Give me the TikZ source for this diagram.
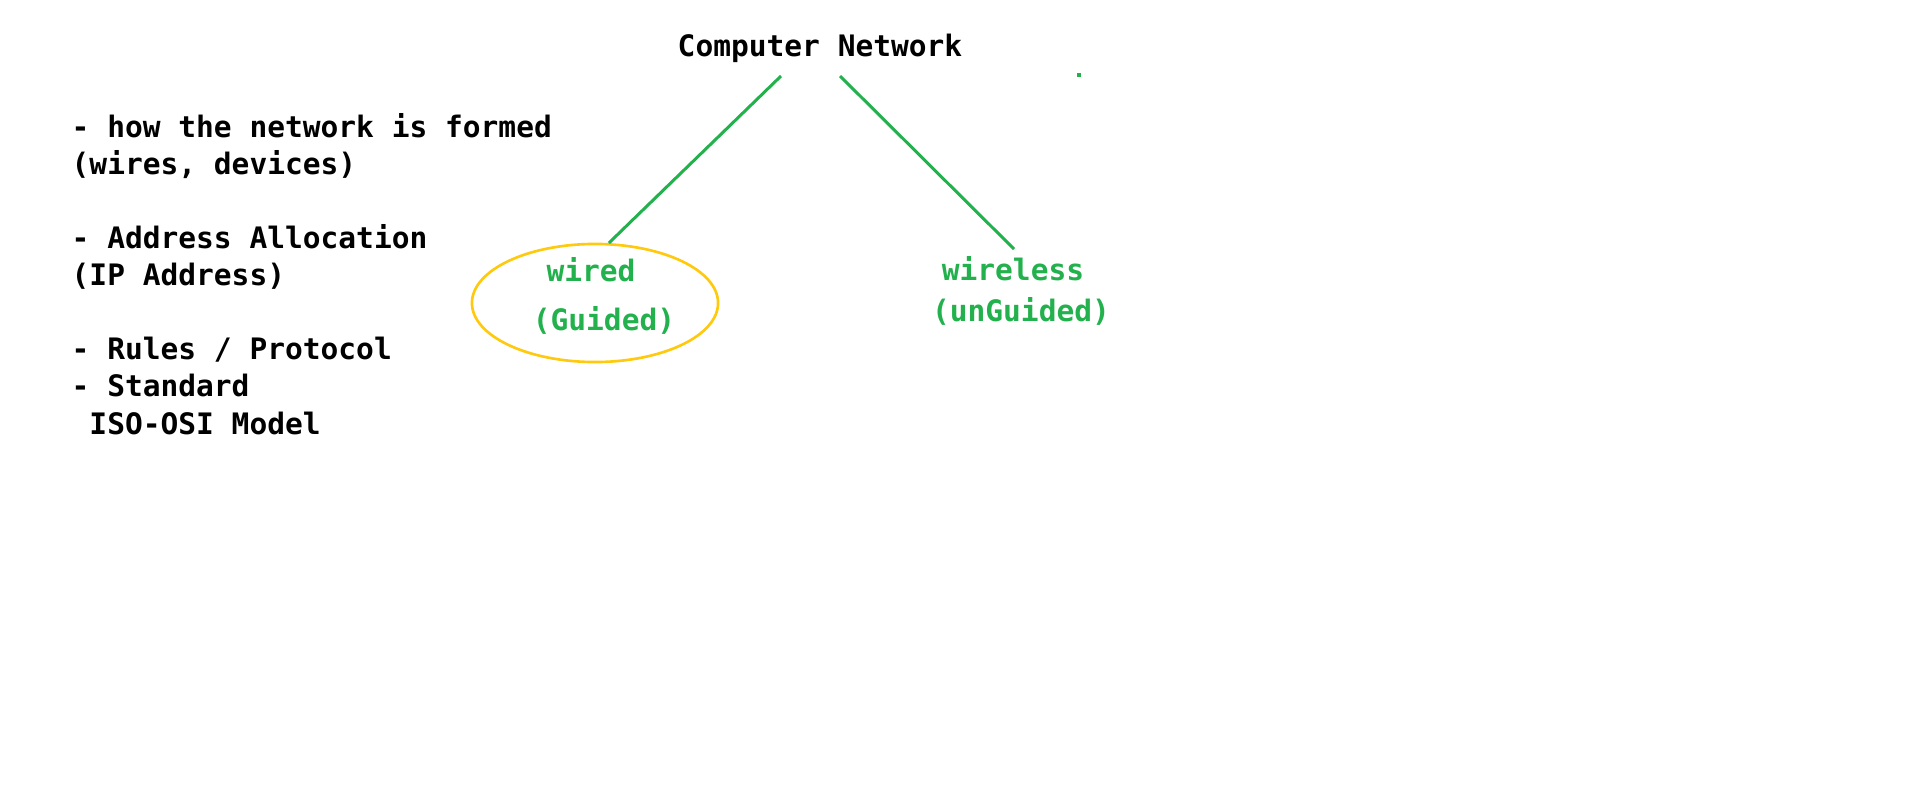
\documentclass[tikz,border=0pt]{standalone}
\usepackage{fontspec}
\setmonofont{DejaVu Sans Mono}
\usetikzlibrary{shapes.geometric, positioning}

\definecolor{paintgreen}{RGB}{34,177,76}
\definecolor{paintgold}{RGB}{255,201,14}

\tikzset{
  note/.style={font=\ttfamily\bfseries\fontsize{8.4}{10}\selectfont, inner sep=0pt, anchor=base west},
  label/.style={font=\ttfamily\bfseries\fontsize{8.4}{10}\selectfont, inner sep=0pt, anchor=base},
  branch/.style={paintgreen, line width=0.85pt},
}

\begin{document}
\begin{tikzpicture}[x=0.01cm, y=-0.01cm]
            \useasboundingbox (0,0) rectangle (1914,806);

            % Title
            \node[label] (title) at (820,56) {Computer Network};

            % Notes on the left
            \node[note] (n1) at (71,137) {- how the network is formed};
            \node[note] (n2) at (71,174) {(wires, devices)};
            \node[note] (n3) at (71,248) {- Address Allocation};
            \node[note] (n4) at (71,285) {(IP Address)};
            \node[note] (n5) at (71,359) {- Rules / Protocol};
            \node[note] (n6) at (71,396) {- Standard};
            \node[note] (n7) at (71,434) {\ ISO-OSI Model};

            % Wired branch
            \node[ellipse, draw=paintgold, line width=0.75pt, minimum width=2.46cm, minimum height=1.18cm, inner sep=0pt] (wiredbox) at (595,303) {};
            \node[label, text=paintgreen] (wired) at (591,281) {wired};
            \node[label, text=paintgreen] (guided) at (604,330) {(Guided)};

            % Wireless branch
            \node[label, text=paintgreen] (wireless) at (1013,280) {wireless};
            \node[label, text=paintgreen] (unguided) at (1021,321) {(unGuided)};

            % Branch lines
            \coordinate (t1) at (781,76);
            \coordinate (t2) at (840,76);
            \coordinate (w1) at (1014,249);
            \draw[branch] (t1) -- (wiredbox.77);
            \draw[branch] (t2) -- (w1);

            % stray dot
            \fill[paintgreen] (1077,73) rectangle (1081,77);
        \end{tikzpicture}
\end{document}
